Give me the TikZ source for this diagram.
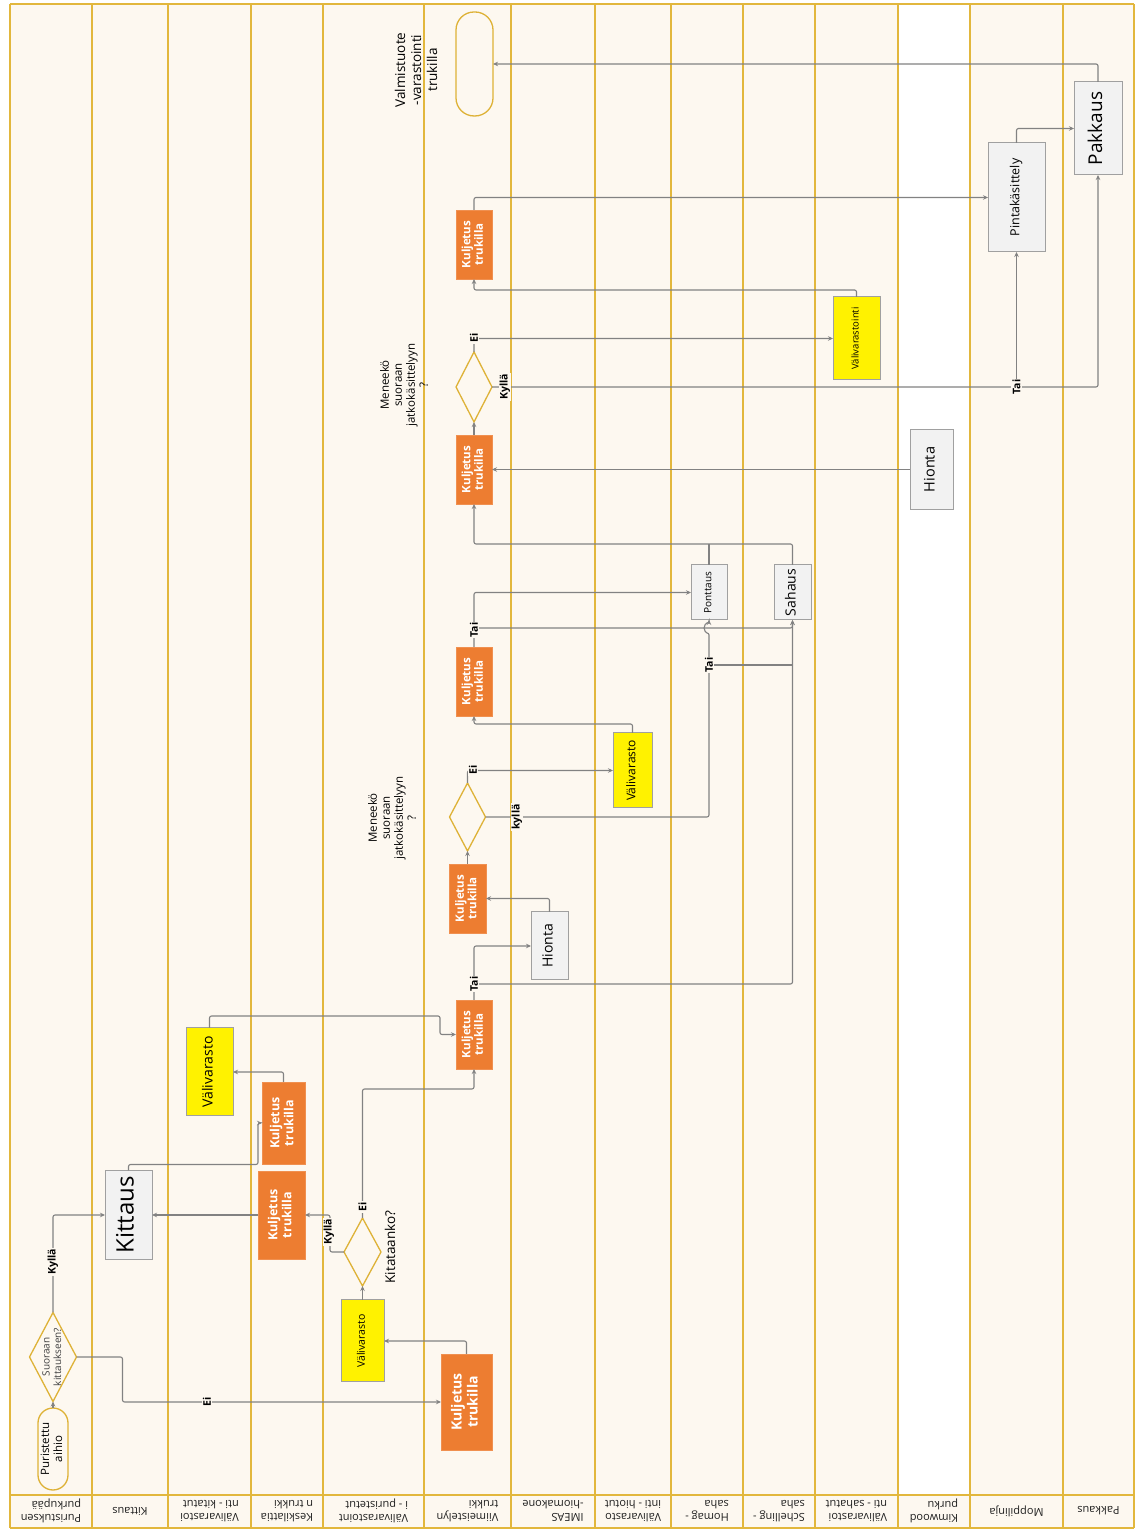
\documentclass[tikz,border=0pt]{standalone}
\usepackage{fontspec}
\setmainfont{Open Sans}
\usetikzlibrary{shapes.geometric,arrows.meta,calc}
\definecolor{cream}{RGB}{253,248,240}
\definecolor{laneC}{RGB}{226,183,61}
\definecolor{connC}{RGB}{130,130,130}
\definecolor{orangeC}{RGB}{237,125,49}
\definecolor{grayF}{RGB}{242,242,242}
\definecolor{grayE}{RGB}{160,160,160}
\definecolor{diamC}{RGB}{222,178,55}
\newcommand{\rt}[1]{\rotatebox{90}{\begin{tabular}{@{}c@{}}#1\end{tabular}}}
\tikzset{
 conn/.style={draw=connC, line width=1.1pt, -{Stealth[length=5pt,width=4.5pt]}, rounded corners=2pt},
 plain/.style={draw=connC, line width=1.1pt, rounded corners=2pt},
 okbox/.style={fill=orangeC, draw=orangeC!85!white, line width=0.8pt, text=white, inner sep=0pt, outer sep=0pt, font=\bfseries\fontsize{11.5}{12.5}\selectfont},
 gbox/.style={fill=grayF, draw=grayE, line width=1pt, inner sep=0pt, outer sep=0pt},
 ybox/.style={fill=yellow, draw=grayE, line width=1pt, inner sep=0pt, outer sep=0pt},
 dia/.style={diamond, draw=diamC, line width=1.3pt, fill=cream, inner sep=0pt, outer sep=0pt},
 term/.style={draw=diamC, line width=1.3pt, fill=cream, inner sep=0pt, outer sep=0pt},
 lbl/.style={fill=cream, inner sep=1pt, rotate=90, font=\bfseries\fontsize{10.5}{12}\selectfont},
 lanelbl/.style={rotate=180, align=left, font=\fontsize{11}{12.5}\selectfont, text=black!88},
 laneline/.style={draw=laneC, line width=1.8pt},
}
\begin{document}
\begin{tikzpicture}[x=1pt,y=1pt]
\useasboundingbox (0,0) rectangle (1141,1530);
% background
\fill[white] (0,0) rectangle (1141,1530);
\fill[cream] (10,2) rectangle (1134,1526);
\fill[white] (898,35) rectangle (970,1526);
% lanes
\foreach \x in {10,92,168,251,323,424,511,595,671,743,815,898,970,1063,1134}
  \draw[laneline] (\x,2) -- (\x,1526);
\draw[laneline] (10,1526) -- (1134,1526);
\draw[laneline] (10,35) -- (1134,35);
\draw[laneline] (10,2) -- (1134,2);
% lane labels
\node[lanelbl] (l1) at (51,19) {Puristuksen\\purkupää};
\node[lanelbl] (l2) at (130,19) {Kittaus};
\node[lanelbl] (l3) at (209.5,19) {Välivarastoi\\nti - kitatut};
\node[lanelbl] (l4) at (287,19) {Keskilattia\\n trukki};
\node[lanelbl] (l5) at (373.5,19) {Välivarastoint\\i - puristetut};
\node[lanelbl] (l6) at (467.5,19) {Viimeistelyn\\trukki};
\node[lanelbl] (l7) at (553,19) {IMEAS\\-hiomakone};
\node[lanelbl] (l8) at (633,19) {Välivarasto\\inti - hiotut};
\node[lanelbl] (l9) at (707,19) {Homag -\\saha};
\node[lanelbl] (l10) at (779,19) {Schelling -\\saha};
\node[lanelbl] (l11) at (856.5,19) {Välivarastoi\\nti - sahatut};
\node[lanelbl] (l12) at (934,19) {Kimwood\\purku};
\node[lanelbl] (l13) at (1016.5,19) {Moppilinja};
\node[lanelbl] (l14) at (1098.5,19) {Pakkaus};
% nodes
\node[term, minimum width=30pt, minimum height=82pt, rounded corners=15pt] (start) at (53,81) {\fontsize{11.5}{13}\selectfont\rt{Puristettu\\aihio}};
\node[dia, minimum width=47pt, minimum height=89pt] (d1) at (53,173) {};
\node[font=\fontsize{10}{11.5}\selectfont, text=black!75] (d1t) at (53,173) {\rt{Suoraan\\kittaukseen?}};
\node[gbox, minimum width=47pt, minimum height=89pt] (kittaus) at (128.5,315) {\fontsize{24}{26}\selectfont\rt{Kittaus}};
\node[okbox, minimum width=47pt, minimum height=88pt, font=\bfseries\fontsize{12.5}{14}\selectfont] (kul1) at (281.5,315) {\rt{Kuljetus\\trukilla}};
\node[okbox, minimum width=43pt, minimum height=82pt, font=\bfseries\fontsize{12.5}{14}\selectfont] (kul2) at (283.5,407) {\rt{Kuljetus\\trukilla}};
\node[ybox, minimum width=47pt, minimum height=88pt] (vvk) at (209.5,458) {\fontsize{14}{16}\selectfont\rt{Välivarasto}};
\node[ybox, minimum width=43pt, minimum height=82pt] (vv1) at (362.5,189) {\fontsize{10.5}{12}\selectfont\rt{Välivarasto}};
\node[dia, minimum width=37pt, minimum height=68pt] (dk) at (362.5,278) {};
\node[rotate=90, font=\fontsize{13.5}{15}\selectfont] (dkt) at (390,283) {Kitataanko?};
\node[okbox, minimum width=51pt, minimum height=96pt, font=\bfseries\fontsize{14}{16}\selectfont] (bigK) at (466.5,128) {\rt{Kuljetus\\trukilla}};
\node[okbox, minimum width=36pt, minimum height=69pt] (kul3) at (474,495.5) {\rt{Kuljetus\\trukilla}};
\node[gbox, minimum width=37pt, minimum height=68pt] (hionta) at (549.5,584) {\fontsize{14}{16}\selectfont\rt{Hionta}};
\node[okbox, minimum width=37pt, minimum height=69pt] (kul4) at (467.5,631.5) {\rt{Kuljetus\\trukilla}};
\node[dia, minimum width=36pt, minimum height=68pt] (d2) at (467.5,713) {};
\node[rotate=90, align=center, font=\fontsize{11.5}{13}\selectfont] (d2t) at (392,712) {Meneekö\\suoraan\\jatkokäsittelyyn\\?};
\node[ybox, minimum width=39pt, minimum height=75pt] (vv2) at (632.5,759.5) {\fontsize{12}{14}\selectfont\rt{Välivarasto}};
\node[okbox, minimum width=36pt, minimum height=69pt] (kul5) at (474,848.5) {\rt{Kuljetus\\trukilla}};
\node[gbox, minimum width=36pt, minimum height=55pt] (pont) at (709,937.5) {\fontsize{10}{12}\selectfont\rt{Ponttaus}};
\node[gbox, minimum width=37pt, minimum height=55pt] (sahaus) at (792.5,937.5) {\fontsize{14}{16}\selectfont\rt{Sahaus}};
\node[okbox, minimum width=36pt, minimum height=69pt] (kul6) at (474,1060.5) {\rt{Kuljetus\\trukilla}};
\node[gbox, minimum width=43pt, minimum height=80pt] (hionta2) at (931.5,1060.5) {\fontsize{14.5}{16}\selectfont\rt{Hionta}};
\node[dia, minimum width=36pt, minimum height=70pt] (d3) at (474,1143) {};
\node[rotate=90, align=center, font=\fontsize{11.5}{13}\selectfont] (d3t) at (404,1145) {Meneekö\\suoraan\\jatkokäsittelyyn\\?};
\node[ybox, minimum width=47pt, minimum height=83pt] (vvi) at (856.5,1191.5) {\fontsize{9.5}{11}\selectfont\rt{Välivarastointi}};
\node[okbox, minimum width=36pt, minimum height=69pt] (kul7) at (474,1285.5) {\rt{Kuljetus\\trukilla}};
\node[gbox, minimum width=57pt, minimum height=109pt] (pint) at (1016.5,1332.5) {\fontsize{12.5}{14}\selectfont\rt{Pintakäsittely}};
\node[gbox, minimum width=48pt, minimum height=93pt] (pak) at (1098,1401.5) {\fontsize{19}{21}\selectfont\rt{Pakkaus}};
\node[term, minimum width=37pt, minimum height=104pt, rounded corners=18pt] (end) at (474.5,1466) {};
\node[rotate=90, align=center, font=\fontsize{13.5}{16}\selectfont] (endt) at (416,1460) {Valmistuote\\-varastointi\\trukilla};
% branch points
\coordinate (b1) at (474,546);
\coordinate (b3) at (474,902);
\coordinate (b4) at (709,865);
\coordinate (b5) at (1016.5,1143);
% connectors
\draw[conn] (start.north) -- (d1.south);
\draw[conn] (d1.north) |- (kittaus.west);
\draw[conn] (d1.east) -- ++(46,0) |- (bigK.west);
\draw[conn] (bigK.north) |- (vv1.east);
\draw[conn] (vv1.north) -- (dk.south);
\draw[conn] (dk.west) -- ++(-14,0) |- (kul1.east);
\draw[conn] (dk.north) |- ([yshift=-20pt]kul3.south) -- (kul3.south);
\draw[conn] (kul1.west) -- (kittaus.east);
\draw[conn] (kittaus.north) -- ++(0,6) -| ([xshift=-4pt]kul2.west) -- (kul2.west);
\draw[conn] (kul2.north) |- (vvk.east);
\draw[conn] (vvk.north) -- ++(0,12) -| ([xshift=-16pt]kul3.west) -- (kul3.west);
\draw[conn] (kul3.north) |- (hionta.west);
\draw[conn] (b1) -| (sahaus.south);
\draw[conn] (hionta.north) |- (kul4.east);
\draw[conn] (kul4.north) -- (d2.south);
\draw[conn] (d2.north) |- (vv2.west);
\draw[conn] (d2.east) -| (709,897) arc[start angle=270,end angle=90,radius=5pt] -- (pont.south);
\draw[plain] (b4) -- (sahaus.south |- b4);
\draw[conn] (vv2.north) -- ++(0,9) -| (kul5.south);
\draw[conn] (kul5.north) |- (pont.west);
\draw[conn] (b3) -| (sahaus.south);
\draw[plain] (pont.north) -- ++(0,21);
\draw[conn] (sahaus.north) |- ([yshift=-40pt]kul6.south) -- (kul6.south);
\draw[conn] (hionta2.west) -- (kul6.east);
\draw[conn] (kul6.north) -- (d3.south);
\draw[conn] (d3.north) |- (vvi.west);
\draw[conn] (d3.east) -| (pak.south);
\draw[conn] (b5) -- (pint.south);
\draw[conn] (vvi.north) -- ++(0,7) -| (kul7.south);
\draw[conn] (kul7.north) |- (pint.west);
\draw[conn] (pint.north) |- (pak.west);
\draw[conn] (pak.north) |- (end.east);
% connector labels
\node[lbl] (tKy1) at (53,268) {Kyllä};
\node[lbl] (tEi1) at (207,128) {Ei};
\node[lbl] (tKy2) at (329,298) {Kyllä};
\node[lbl] (tEi2) at (362.5,323) {Ei};
\node[lbl] (tTai1) at (474,546) {Tai};
\node[lbl] (tEi3) at (473,760) {Ei};
\node[lbl] (tKy3) at (517,713) {kyllä};
\node[lbl] (tTai2) at (474,900) {Tai};
\node[lbl] (tTai3) at (709,865) {Tai};
\node[lbl] (tEi4) at (474,1192) {Ei};
\node[lbl] (tKy4) at (505,1143) {Kyllä};
\node[lbl] (tTai4) at (1016.5,1143) {Tai};
\end{tikzpicture}
\end{document}
